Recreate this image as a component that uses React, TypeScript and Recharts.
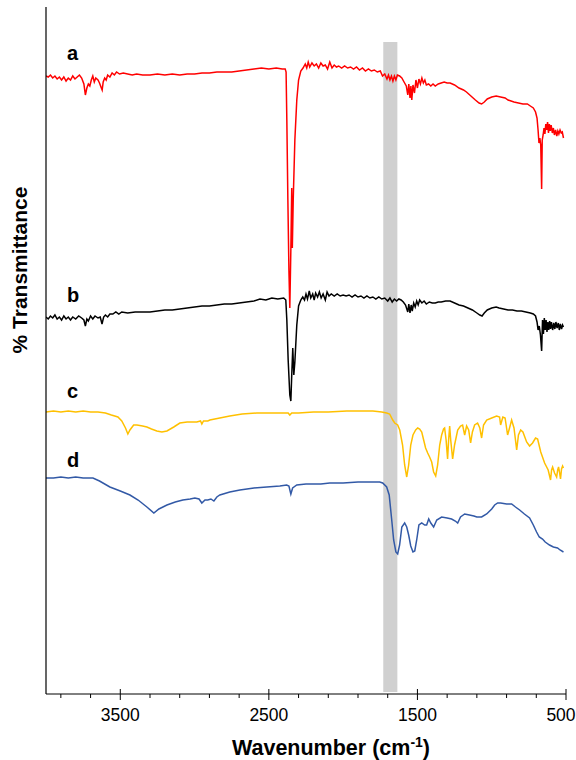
import { LineChart, Line, XAxis, YAxis, ReferenceArea } from "recharts";

document.body.style.margin = "0";

// wavenumber (cm-1), offset transmittance (arbitrary units)
const specA: [number, number][] = [
  [4000, 61.8], [3985, 61.7], [3970, 61.9], [3955, 61.6], [3940, 61.8], [3925, 61.5], [3910, 61.7],
  [3895, 61.4], [3880, 61.7], [3865, 61.3], [3850, 61.6], [3835, 61.4], [3820, 61.8], [3805, 61.5],
  [3790, 61.7], [3775, 61.9], [3760, 61.6], [3745, 61.0], [3735, 59.9], [3725, 60.6], [3715, 61.0],
  [3705, 60.8], [3695, 61.4], [3685, 61.8], [3675, 61.2], [3665, 61.6], [3650, 61.4], [3640, 61.1],
  [3630, 60.7], [3622, 60.4], [3615, 61.2], [3605, 61.6], [3595, 61.4], [3585, 61.9], [3570, 61.7],
  [3555, 62.1], [3540, 61.9], [3525, 62.2], [3505, 62.0], [3480, 62.1], [3450, 62.0], [3420, 61.9],
  [3390, 62.0], [3350, 61.9], [3300, 61.9], [3250, 62.0], [3200, 61.9], [3150, 62.0], [3100, 61.9],
  [3050, 62.0], [3000, 62.0], [2950, 62.1], [2900, 62.1], [2850, 62.2], [2800, 62.2], [2750, 62.2],
  [2700, 62.3], [2650, 62.4], [2600, 62.5], [2550, 62.6], [2500, 62.5], [2450, 62.6], [2410, 62.5],
  [2390, 62.5], [2384, 62.2], [2379, 57.4], [2372, 49.4], [2365, 42.4], [2359, 38.6], [2352, 44.4],
  [2346, 50.6], [2342, 44.6], [2336, 49.4], [2325, 55.4], [2312, 59.4], [2300, 61.4], [2285, 62.3],
  [2270, 62.6], [2255, 63.0], [2245, 62.6], [2235, 63.2], [2225, 62.7], [2210, 63.1], [2195, 62.8],
  [2180, 63.0], [2165, 62.6], [2150, 63.1], [2135, 62.8], [2120, 62.9], [2105, 62.5], [2090, 63.2],
  [2075, 62.6], [2060, 62.9], [2045, 62.7], [2030, 62.8], [2010, 62.6], [1990, 62.8], [1970, 62.6],
  [1950, 62.7], [1930, 62.5], [1910, 62.7], [1890, 62.4], [1870, 62.6], [1850, 62.3], [1830, 62.5],
  [1810, 62.3], [1790, 62.4], [1770, 62.2], [1750, 62.3], [1735, 61.8], [1720, 62.0], [1705, 61.5],
  [1695, 61.9], [1685, 61.4], [1675, 61.8], [1665, 61.3], [1655, 61.8], [1645, 61.4], [1635, 61.9],
  [1620, 61.8], [1605, 61.6], [1590, 61.2], [1575, 60.8], [1565, 59.9], [1558, 61.0], [1550, 59.6],
  [1544, 60.8], [1538, 59.4], [1530, 60.9], [1520, 60.1], [1510, 61.4], [1500, 60.6], [1490, 61.5],
  [1480, 61.0], [1470, 61.6], [1460, 61.1], [1450, 61.4], [1440, 60.9], [1425, 61.0], [1410, 60.8],
  [1395, 61.0], [1380, 60.8], [1360, 61.0], [1340, 61.1], [1320, 61.2], [1300, 61.1], [1280, 61.1],
  [1250, 60.9], [1220, 60.6], [1190, 60.4], [1170, 60.2], [1140, 59.8], [1110, 59.4], [1085, 59.1],
  [1068, 59.0], [1050, 59.2], [1030, 59.5], [1000, 59.7], [970, 59.8], [940, 59.7], [910, 59.6],
  [890, 59.4], [870, 59.3], [850, 59.2], [820, 59.1], [790, 59.0], [760, 59.0], [740, 58.8],
  [720, 58.6], [705, 58.2], [695, 57.6], [688, 56.4], [682, 55.1], [676, 55.6], [670, 54.9],
  [664, 50.5], [660, 55.4], [654, 55.9], [648, 56.6], [642, 56.0], [636, 57.0], [630, 56.4],
  [624, 57.2], [618, 56.1], [612, 57.0], [606, 56.3], [600, 56.9], [592, 56.1], [585, 56.6],
  [578, 55.9], [570, 56.4], [562, 55.8], [555, 56.3], [548, 56.0], [540, 56.4], [532, 56.1],
  [525, 56.2], [517, 55.6],
];

const specB: [number, number][] = [
  [4000, 37.7], [3985, 37.5], [3970, 37.8], [3955, 37.6], [3940, 37.9], [3925, 37.5], [3910, 37.7],
  [3895, 37.4], [3880, 37.8], [3865, 37.5], [3850, 37.7], [3835, 37.4], [3820, 37.7], [3800, 37.5],
  [3780, 37.8], [3760, 37.6], [3745, 37.4], [3735, 36.8], [3725, 37.5], [3715, 37.3], [3700, 37.8],
  [3685, 37.5], [3670, 37.8], [3650, 37.6], [3635, 37.7], [3623, 37.0], [3612, 37.7], [3600, 37.9],
  [3585, 37.7], [3570, 38.0], [3550, 38.0], [3530, 38.2], [3510, 38.0], [3490, 38.2], [3450, 38.1],
  [3400, 38.2], [3350, 38.2], [3300, 38.2], [3250, 38.3], [3200, 38.4], [3150, 38.4], [3100, 38.5],
  [3050, 38.6], [3000, 38.7], [2950, 38.8], [2900, 38.8], [2850, 38.9], [2800, 39.0], [2750, 39.0],
  [2700, 39.1], [2650, 39.2], [2600, 39.3], [2560, 39.5], [2520, 39.4], [2480, 39.6], [2440, 39.5],
  [2400, 39.6], [2386, 39.4], [2379, 37.4], [2370, 33.4], [2359, 29.9], [2352, 29.3], [2346, 31.9],
  [2339, 34.6], [2332, 31.9], [2325, 33.2], [2312, 36.9], [2300, 38.8], [2285, 39.4], [2272, 39.7],
  [2260, 39.4], [2250, 40.0], [2240, 39.5], [2228, 40.3], [2218, 39.6], [2205, 40.0], [2195, 39.4],
  [2185, 40.1], [2172, 39.7], [2160, 40.2], [2148, 39.6], [2135, 40.0], [2120, 39.4], [2108, 40.2],
  [2095, 39.8], [2080, 40.0], [2060, 39.8], [2040, 40.0], [2020, 39.8], [2000, 39.9], [1980, 39.8],
  [1960, 39.9], [1940, 39.7], [1920, 39.9], [1900, 39.7], [1880, 39.8], [1860, 39.6], [1840, 39.8],
  [1820, 39.6], [1800, 39.7], [1780, 39.5], [1760, 39.7], [1740, 39.5], [1720, 39.6], [1700, 39.3],
  [1685, 39.6], [1670, 39.2], [1655, 39.5], [1640, 39.3], [1625, 39.5], [1610, 39.4], [1595, 39.2],
  [1580, 38.9], [1565, 38.2], [1558, 39.0], [1550, 38.1], [1542, 38.9], [1535, 38.3], [1525, 39.1],
  [1515, 38.7], [1505, 39.3], [1495, 38.9], [1485, 39.4], [1470, 39.1], [1455, 39.3], [1440, 39.0],
  [1420, 39.2], [1400, 39.1], [1380, 39.1], [1360, 39.2], [1340, 39.2], [1310, 39.3], [1280, 39.3],
  [1250, 39.1], [1220, 38.9], [1190, 38.8], [1160, 38.6], [1130, 38.4], [1100, 38.1], [1080, 37.9],
  [1065, 37.8], [1050, 38.1], [1030, 38.4], [1000, 38.6], [970, 38.7], [950, 38.6], [920, 38.5],
  [890, 38.4], [860, 38.4], [830, 38.3], [800, 38.3], [770, 38.2], [740, 38.1], [720, 38.0],
  [705, 37.8], [695, 37.2], [688, 36.4], [680, 36.8], [672, 35.9], [664, 34.3], [658, 37.4],
  [652, 36.0], [646, 37.6], [640, 36.4], [634, 37.4], [628, 36.2], [622, 37.2], [616, 36.4],
  [610, 37.3], [604, 36.5], [598, 37.2], [590, 36.4], [582, 37.1], [575, 36.5], [568, 37.2],
  [560, 36.6], [552, 37.1], [545, 36.4], [538, 37.0], [530, 36.5], [523, 36.9], [517, 36.7],
];

const specC: [number, number][] = [
  [4000, 28.2], [3950, 28.3], [3900, 28.2], [3850, 28.3], [3800, 28.2], [3750, 28.3], [3700, 28.2],
  [3650, 28.2], [3600, 28.1], [3560, 27.9], [3516, 27.7], [3490, 27.3], [3465, 26.6], [3449, 26.0],
  [3435, 26.4], [3410, 26.9], [3388, 26.9], [3350, 26.8], [3321, 26.7], [3290, 26.5], [3254, 26.3],
  [3220, 26.2], [3186, 26.3], [3140, 26.7], [3099, 27.1], [3050, 27.2], [2985, 27.2], [2960, 27.3],
  [2951, 27.0], [2940, 27.3], [2911, 27.3], [2897, 27.4], [2830, 27.6], [2763, 27.8], [2680, 28.0],
  [2581, 28.1], [2480, 28.1], [2393, 28.1], [2370, 28.1], [2359, 27.9], [2346, 28.1], [2300, 28.1],
  [2200, 28.2], [2100, 28.2], [1976, 28.3], [1900, 28.3], [1800, 28.3], [1740, 28.2], [1707, 28.1],
  [1687, 28.0], [1666, 27.4], [1653, 27.1], [1633, 26.9], [1619, 26.4], [1600, 24.9], [1586, 22.9],
  [1572, 21.7], [1559, 22.9], [1545, 24.9], [1530, 25.9], [1512, 26.4], [1498, 26.6], [1485, 26.5],
  [1471, 26.2], [1458, 25.4], [1445, 24.6], [1431, 24.1], [1418, 23.7], [1404, 23.2], [1391, 22.2],
  [1377, 21.8], [1364, 22.9], [1350, 24.9], [1337, 25.9], [1324, 26.5], [1317, 26.6], [1307, 25.4],
  [1297, 23.5], [1290, 25.4], [1283, 26.8], [1276, 25.4], [1263, 23.5], [1250, 24.9], [1229, 26.4],
  [1210, 26.8], [1196, 26.9], [1182, 25.9], [1169, 26.8], [1155, 26.4], [1142, 25.1], [1130, 26.2],
  [1115, 26.9], [1095, 27.1], [1080, 26.6], [1068, 25.6], [1055, 26.9], [1034, 27.4], [1000, 27.6],
  [967, 27.8], [947, 27.7], [940, 26.9], [925, 27.7], [910, 27.6], [893, 25.9], [880, 26.6],
  [866, 27.4], [850, 26.6], [840, 25.4], [832, 24.4], [820, 25.9], [805, 26.4], [790, 26.2],
  [765, 25.2], [745, 24.8], [725, 25.1], [705, 25.6], [691, 25.5], [670, 24.2], [644, 23.1],
  [620, 22.4], [604, 21.4], [597, 22.4], [590, 22.7], [577, 22.1], [563, 21.7], [556, 22.4],
  [550, 22.7], [544, 22.2], [537, 21.5], [530, 22.5], [523, 22.8], [517, 22.6],
];

const specD: [number, number][] = [
  [4000, 21.6], [3950, 21.6], [3900, 21.7], [3850, 21.6], [3800, 21.7], [3750, 21.6], [3684, 21.6],
  [3640, 21.3], [3570, 20.7], [3500, 20.3], [3435, 19.9], [3380, 19.4], [3321, 18.7], [3274, 18.1],
  [3240, 18.5], [3186, 18.9], [3130, 19.2], [3079, 19.4], [3030, 19.5], [2998, 19.6], [2970, 19.5],
  [2951, 19.1], [2930, 19.4], [2911, 19.4], [2890, 19.5], [2870, 19.3], [2850, 19.7], [2830, 19.9],
  [2763, 20.2], [2695, 20.4], [2600, 20.6], [2514, 20.7], [2426, 20.8], [2380, 20.9], [2365, 20.8],
  [2352, 20.0], [2340, 20.6], [2312, 20.9], [2250, 21.0], [2150, 21.0], [2090, 21.1], [2000, 21.1],
  [1900, 21.2], [1800, 21.2], [1754, 21.2], [1734, 21.1], [1707, 20.7], [1690, 19.9], [1673, 17.4],
  [1660, 15.4], [1645, 14.2], [1633, 14.0], [1620, 14.9], [1605, 16.7], [1586, 17.1], [1572, 16.7],
  [1559, 15.9], [1545, 14.8], [1530, 14.2], [1518, 14.3], [1505, 15.4], [1490, 16.9], [1471, 17.1],
  [1451, 16.9], [1438, 16.9], [1424, 17.5], [1410, 17.1], [1391, 16.7], [1370, 17.4], [1337, 17.7],
  [1300, 17.6], [1270, 17.5], [1245, 17.3], [1229, 17.1], [1210, 17.7], [1182, 18.0], [1150, 17.9],
  [1120, 17.8], [1100, 17.7], [1068, 17.7], [1034, 18.0], [1000, 18.5], [980, 18.9], [960, 19.1],
  [940, 19.1], [900, 19.0], [866, 19.0], [840, 18.7], [812, 18.4], [780, 18.0], [745, 17.6],
  [720, 16.9], [698, 16.2], [680, 15.7], [658, 15.5], [640, 15.2], [611, 14.9], [585, 14.7],
  [557, 14.6], [540, 14.4], [517, 14.2],
];

const xTicks = [3900, 3700, 3500, 3300, 3100, 2900, 2700, 2500, 2300, 2100, 1900, 1700, 1500, 1300, 1100, 900, 700, 500];
const majorTicks = [3500, 2500, 1500, 500];
const band = [1730, 1635];

const toRows = (s: [number, number][]) => s.map(([w, v]) => ({ w, v }));

const series = [
  { key: "a", data: toRows(specA), color: "#ff0000" },
  { key: "b", data: toRows(specB), color: "#000000" },
  { key: "c", data: toRows(specC), color: "#ffc000" },
  { key: "d", data: toRows(specD), color: "#3259a6" },
];

const FONT = "Arial, 'Liberation Sans', sans-serif";

function XTick({ x, y, payload }: any) {
  const major = majorTicks.includes(payload.value);
  // keep the last label inside the page
  const tx = payload.value === 500 ? x - 5 : x;
  return (
    <g>
      <line x1={x} x2={x} y1={major ? y - 5 : y} y2={major ? y + 6 : y + 4} stroke="#000" strokeWidth={1} />
      {major && (
        <text x={tx} y={y + 27} textAnchor="middle" fontSize={17.5} fontFamily={FONT} fill="#000">
          {payload.value}
        </text>
      )}
    </g>
  );
}

export default function App() {
  return (
    <div style={{ position: "relative", width: 576, height: 760, background: "#fff" }}>
      <LineChart width={576} height={760} margin={{ top: 7, right: 10, bottom: 0, left: 45 }}>
        <ReferenceArea x1={band[0]} x2={band[1]} y1={0.2} y2={65.2} fill="#d0d0d0" fillOpacity={1} stroke="none" />
        <XAxis
          dataKey="w"
          type="number"
          domain={[500, 4000]}
          reversed
          allowDataOverflow
          ticks={xTicks}
          interval={0}
          tick={<XTick />}
          tickLine={false}
          tickSize={0}
          tickMargin={0}
          height={66}
          axisLine={{ stroke: "#000", strokeWidth: 1 }}
        />
        <YAxis
          type="number"
          domain={[0, 68.7]}
          width={1}
          tick={false}
          tickLine={false}
          axisLine={{ stroke: "#000", strokeWidth: 1.2 }}
        />
        {series.map((s) => (
          <Line
            key={s.key}
            data={s.data}
            dataKey="v"
            stroke={s.color}
            strokeWidth={1.5}
            dot={false}
            isAnimationActive={false}
            type="linear"
          />
        ))}
      </LineChart>
      <svg width={576} height={760} style={{ position: "absolute", left: 0, top: 0, pointerEvents: "none" }}>
        <g fontFamily={FONT} fontWeight="bold" fill="#000">
          <text x={67} y={60} fontSize={20}>a</text>
          <text x={67} y={302} fontSize={20}>b</text>
          <text x={67} y={398} fontSize={20}>c</text>
          <text x={67} y={467} fontSize={20}>d</text>
          <text x={331} y={755} textAnchor="middle" fontSize={21.5}>
            Wavenumber (cm<tspan fontSize={14} dy={-8}>-1</tspan>
            <tspan dy={8}>)</tspan>
          </text>
          <text transform="translate(27,270) rotate(-90)" textAnchor="middle" fontSize={21}>
            % Transmittance
          </text>
        </g>
      </svg>
    </div>
  );
}
